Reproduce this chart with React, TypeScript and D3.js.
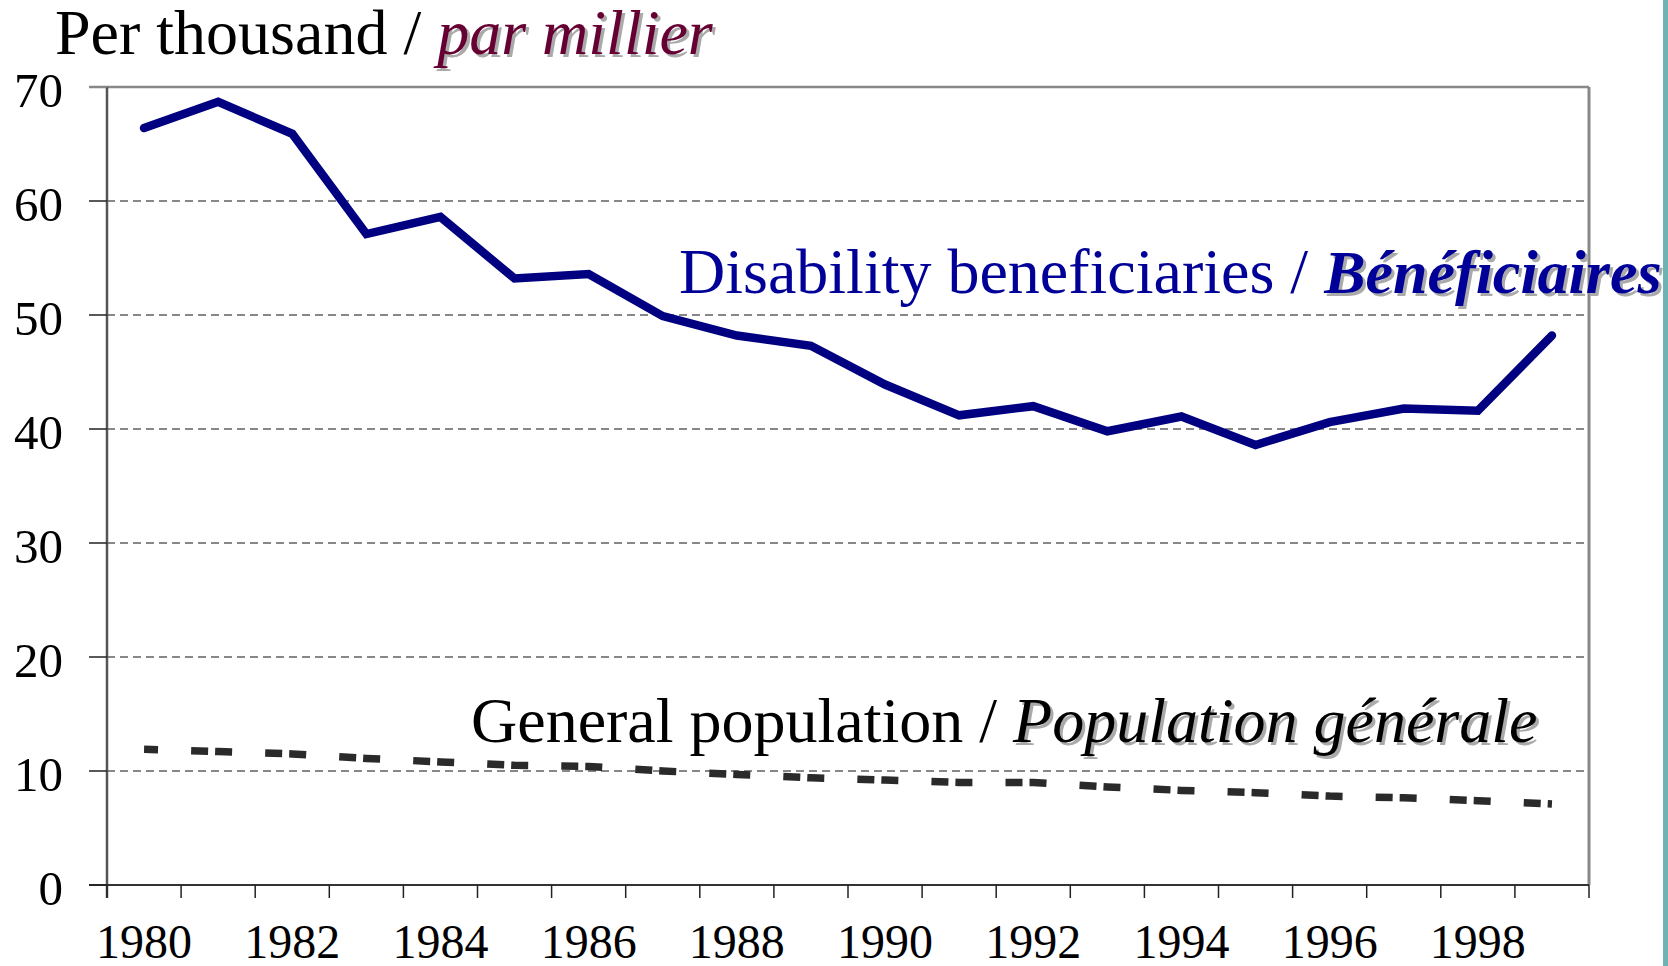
import React from 'react';
import * as d3 from 'd3';

const years = d3.range(1980, 2000).map(String);
const disability = [66.4, 68.7, 65.9, 57.1, 58.6, 53.2, 53.6, 49.9, 48.2, 47.3, 43.9, 41.2, 42.0, 39.8, 41.1, 38.6, 40.6, 41.8, 41.6, 48.2];
const general = [11.9, 11.7, 11.5, 11.1, 10.8, 10.5, 10.4, 10.0, 9.7, 9.4, 9.2, 9.0, 9.0, 8.6, 8.3, 8.1, 7.8, 7.65, 7.4, 7.1];
const yTicks = [0, 10, 20, 30, 40, 50, 60, 70];
const xLabels = years.filter((_, i) => i % 2 === 0);

const W = 1668;
const H = 966;
const left = 107, right = 1589, top = 87, bottom = 885;
const serif = '"Liberation Serif", "Times New Roman", serif';

export default function App() {
  const x = d3.scaleBand().domain(years).range([left, right]);
  const y = d3.scaleLinear().domain([0, 70]).range([bottom, top]);
  const cx = (yr: string) => (x(yr) || 0) + x.bandwidth() / 2;

  const line = d3.line<number>()
    .x((_, i) => cx(years[i]))
    .y(d => y(d));

  // two short dashes per year step
  const step = x.step();
  const dash = `17 7 17 ${step - 41}`;

  const bounds = years.map(yr => x(yr) || 0).concat([right]);

  return (
    <svg width={W} height={H} style={{ position: 'absolute', left: 0, top: 0, background: '#fff' }}
      fontFamily={serif}>
      <rect x={0} y={0} width={W} height={H} fill="#fff" />

      {/* gridlines */}
      {yTicks.filter(t => t > 0 && t < 70).map(t => (
        <line key={t} x1={left} x2={right} y1={y(t)} y2={y(t)}
          stroke="#111" strokeWidth={1.2} strokeDasharray="8 5" />
      ))}

      {/* frame */}
      <line x1={left - 18} x2={right} y1={top} y2={top} stroke="#888" strokeWidth={2.5} />
      <line x1={right} x2={right} y1={top} y2={bottom} stroke="#888" strokeWidth={3} />
      <line x1={left} x2={left} y1={top} y2={bottom + 13} stroke="#555" strokeWidth={2.5} />
      <line x1={left - 18} x2={right} y1={bottom} y2={bottom} stroke="#333" strokeWidth={2} />

      {/* y ticks + labels */}
      {yTicks.map(t => (
        <g key={t}>
          <line x1={left - 18} x2={left} y1={y(t)} y2={y(t)} stroke={t === 70 ? '#888' : '#222'} strokeWidth={1.5} />
          <text x={63} y={y(t) + 20} textAnchor="end" fontSize={49} fill="#000">{t}</text>
        </g>
      ))}

      {/* x ticks */}
      {bounds.map((b, i) => (
        <line key={i} x1={b} x2={b} y1={bottom} y2={bottom + 13} stroke="#222" strokeWidth={1.5} />
      ))}
      {xLabels.map(yr => (
        <text key={yr} x={cx(yr)} y={958} textAnchor="middle" fontSize={48} fill="#000">{yr}</text>
      ))}

      {/* general population dashed */}
      <path d={line(general) || ''} fill="none" stroke="#2a2a2a" strokeWidth={7.5}
        strokeDasharray={dash} strokeDashoffset={27} />

      {/* disability line */}
      <path d={line(disability) || ''} fill="none" stroke="#000080" strokeWidth={8.5}
        strokeLinecap="round" strokeLinejoin="miter" />

      {/* title */}
      <text x={55 + 3} y={57} fontSize={64}>
        <tspan fill="none">Per thousand / </tspan>
        <tspan fill="#aaa" fontStyle="italic">par millier</tspan>
      </text>
      <text x={55} y={54} fontSize={64}>
        <tspan fill="#000">Per thousand / </tspan>
        <tspan fill="#660033" fontStyle="italic">par millier</tspan>
      </text>

      {/* disability label */}
      <text x={679 + 3} y={293 + 3} fontSize={64}>
        <tspan fill="none">Disability beneficiaries / </tspan>
        <tspan fill="#aaa" fontStyle="italic" fontWeight="bold" fontSize={62}>Bénéficiaires</tspan>
      </text>
      <text x={679} y={293} fontSize={64} fill="#000099">
        <tspan>Disability beneficiaries / </tspan>
        <tspan fontStyle="italic" fontWeight="bold" fontSize={62}>Bénéficiaires</tspan>
      </text>

      {/* general label */}
      <text x={471 + 3} y={742 + 3} fontSize={64}>
        <tspan fill="none">General population / </tspan>
        <tspan fill="#aaa" fontStyle="italic">Population générale</tspan>
      </text>
      <text x={471} y={742} fontSize={64} fill="#000">
        <tspan>General population / </tspan>
        <tspan fontStyle="italic">Population générale</tspan>
      </text>

      {/* right edge teal bar */}
      <rect x={1663} y={0} width={5} height={H} fill="#6db3b3" />
    </svg>
  );
}
